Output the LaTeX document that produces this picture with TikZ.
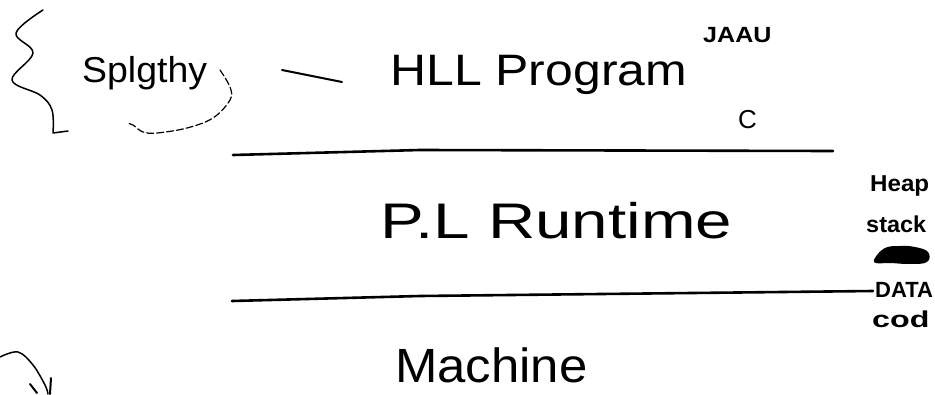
\documentclass[tikz,border=0pt]{standalone}
\usepackage{fontspec}
\setmainfont{Liberation Sans}
\begin{document}
\begin{tikzpicture}[x=1pt,y=-1pt,
  ink/.style={line width=2.6pt,line cap=round,line join=round},
  pen/.style={line width=1.5pt,line cap=round,line join=round},
  lbl/.style={inner sep=0pt,anchor=base west},
  side/.style={inner sep=0pt,anchor=base west,font=\fontsize{23}{23}\selectfont\bfseries}]
\useasboundingbox[fill=white] (0,0) rectangle (935,394);

% brace and scribble at top left
\draw[pen] plot[smooth,tension=0.6] coordinates {(43,10) (16,33) (33,53) (12,80) (40,95) (52,110) (53,133)} -- (68,131);
\node[lbl] (spl) at (82,82) {\scalebox{1.04}[1]{\fontsize{36}{36}\selectfont Splgthy}};
\draw[pen,line width=1.2pt,dashed,dash pattern=on 7pt off 3pt] plot[smooth,tension=0.6] coordinates {(220,70) (230,87) (230,100) (213,118) (187,128) (157,133) (143,132) (133,125) (127,123)};
\draw[ink,line width=2pt] (282,70) -- (342,82);

% top layer
\node[lbl] (hll) at (390,85) {\scalebox{1.135}[1]{\fontsize{44}{44}\selectfont HLL Program}};
\node[lbl] (java) at (703,42) {\scalebox{1.14}[1]{\fontsize{22}{22}\selectfont\bfseries JAAU}};
\node[lbl] (clang) at (738,128) {\fontsize{26}{26}\selectfont C};

% separators
\draw[ink] (233,155) -- (420,150) -- (833,151);
\draw[ink] (232,301) -- (420,296) -- (873,291);

% middle layer
\node[lbl] (plr) at (380,238) {\scalebox{1.31}[1]{\fontsize{50}{50}\selectfont P.L Runtime}};

% bottom layer
\node[lbl] (mach) at (395,382) {\scalebox{1.06}[1]{\fontsize{48}{48}\selectfont Machine}};

% side labels
\node[side] (heap) at (870,191) {\scalebox{1.05}[1]{Heap}};
\node[side] (stack) at (866,232) {\scalebox{1.02}[1]{stack}};
\fill plot[smooth cycle,tension=0.7] coordinates {(875,258) (885,248) (900,246) (915,247) (928,252) (927,262) (910,264) (890,263) (876,263)};
\node[side,font=\fontsize{22}{22}\selectfont\bfseries] (data) at (875,297) {DATA};
\node[side] (cod) at (872,327) {\scalebox{1.4}[1]{cod}};

% bottom-left arrow
\draw[pen] plot[smooth,tension=0.6] coordinates {(0,357) (18,352) (33,365) (45,385) (48,394)};
\draw[pen,line width=2pt] (30,384) -- (37,393);
\draw[pen,line width=2pt] (51,378) -- (50,394);
\end{tikzpicture}
\end{document}
